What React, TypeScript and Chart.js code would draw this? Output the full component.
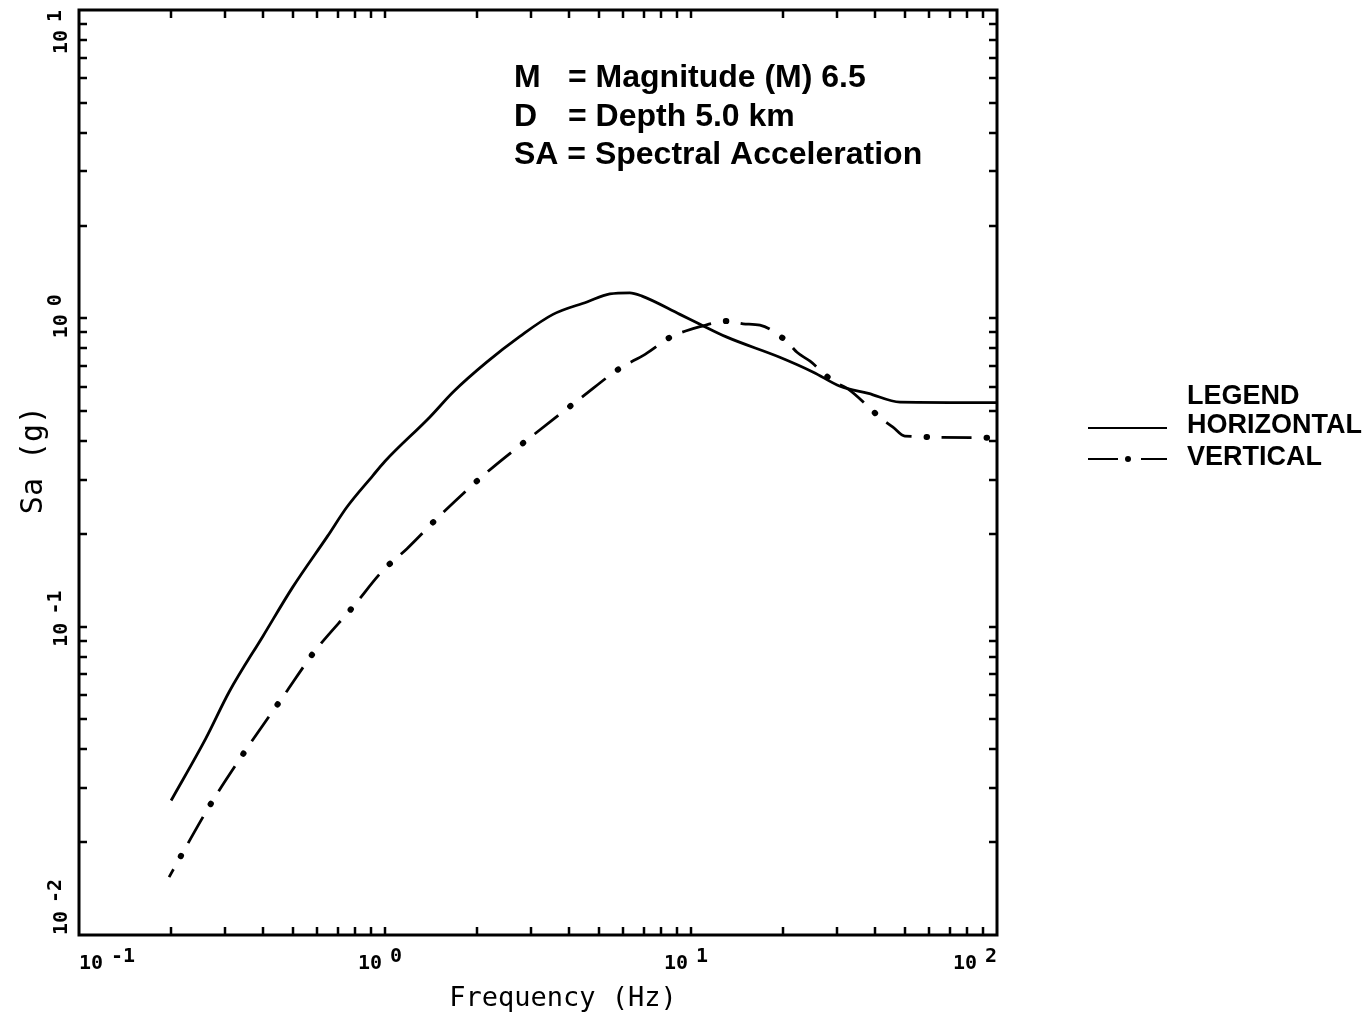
import React, { useEffect, useRef } from 'react';
import { Chart, registerables } from 'chart.js';

Chart.register(...registerables);

// Horizontal spectrum (Hz, g)
const freqH = [0.2, 0.26, 0.31, 0.4, 0.5, 0.65, 0.75, 0.91, 1.0, 1.4, 1.67, 2.15, 2.76, 3.54, 4.57, 5.43, 6.31, 6.92, 9.2, 10.7, 13.1, 19.5, 25.1, 30.7, 38.0, 48.2, 100];
const saH = [0.0273, 0.0435, 0.0616, 0.0935, 0.1346, 0.197, 0.244, 0.308, 0.344, 0.478, 0.577, 0.721, 0.874, 1.03, 1.13, 1.2, 1.21, 1.18, 1.03, 0.957, 0.869, 0.748, 0.669, 0.602, 0.571, 0.535, 0.533];

// Vertical spectrum (Hz, g)
const freqV = [0.197, 0.215, 0.27, 0.346, 0.479, 0.582, 0.792, 0.984, 1.18, 1.51, 2.14, 3.05, 4.4, 5.86, 7.08, 8.67, 9.55, 10.7, 13.2, 14.8, 16.8, 20.6, 22.2, 24.5, 29.1, 32.4, 42.1, 45.7, 50, 100];
const saV = [0.0154, 0.018, 0.0267, 0.039, 0.062, 0.0819, 0.117, 0.152, 0.179, 0.229, 0.315, 0.418, 0.555, 0.689, 0.764, 0.875, 0.908, 0.94, 0.98, 0.96, 0.95, 0.84, 0.776, 0.726, 0.625, 0.593, 0.471, 0.444, 0.415, 0.41];

// Axes
const xDecades = [0.1, 1, 10, 100];
const xExponents = ['-1', '0', '1', '2'];
const yDecades = [0.01, 0.1, 1, 10];
const yExponents = ['-2', '-1', '0', '1'];
const minorMultipliers = [2, 3, 4, 5, 6, 7, 8, 9];
const xTitle = 'Frequency (Hz)';
const yTitle = 'Sa (g)';

// Annotation and legend text
const noteKeys = ['M', 'D', 'SA = Spectral Acceleration'];
const noteValues = ['= Magnitude (M) 6.5', '= Depth 5.0 km', ''];
const legendTitle = 'LEGEND';
const seriesNames = ['HORIZONTAL', 'VERTICAL'];

const MONO = "'DejaVu Sans Mono', monospace";
const SANS = "'Liberation Sans', Arial, sans-serif";

const decorPlugin = {
  id: 'decor',
  afterDraw(chart: any) {
    const ctx: CanvasRenderingContext2D = chart.ctx;
    const a = chart.chartArea;
    const xs = chart.scales.x;
    const ys = chart.scales.y;
    ctx.save();
    ctx.strokeStyle = '#000';
    ctx.fillStyle = '#000';

    // frame
    ctx.lineWidth = 3;
    ctx.strokeRect(a.left, a.top, a.right - a.left, a.bottom - a.top);

    // ticks
    ctx.lineWidth = 2.5;
    const tl = 8;
    const xTickVals: number[] = [];
    xDecades.forEach((d) => {
      xTickVals.push(d);
      minorMultipliers.forEach((m) => { if (d * m < xDecades[xDecades.length - 1]) xTickVals.push(d * m); });
    });
    xTickVals.forEach((v) => {
      const px = Math.round(xs.getPixelForValue(v));
      if (px <= a.left + 2 || px >= a.right - 2) return;
      ctx.beginPath();
      ctx.moveTo(px, a.bottom); ctx.lineTo(px, a.bottom - tl);
      ctx.moveTo(px, a.top); ctx.lineTo(px, a.top + tl);
      ctx.stroke();
    });
    const yTickVals: number[] = [];
    yDecades.forEach((d) => {
      yTickVals.push(d);
      minorMultipliers.forEach((m) => { if (d * m < yDecades[yDecades.length - 1]) yTickVals.push(d * m); });
    });
    yTickVals.forEach((v) => {
      const py = Math.round(ys.getPixelForValue(v));
      if (py <= a.top + 2 || py >= a.bottom - 2) return;
      ctx.beginPath();
      ctx.moveTo(a.left, py); ctx.lineTo(a.left + tl, py);
      ctx.moveTo(a.right, py); ctx.lineTo(a.right - tl, py);
      ctx.stroke();
    });

    // x tick labels
    ctx.font = `bold 20px ${MONO}`;
    ctx.textBaseline = 'alphabetic';
    ctx.textAlign = 'left';
    xDecades.forEach((d, i) => {
      const px = xs.getPixelForValue(d);
      const w10 = ctx.measureText('10').width;
      const we = ctx.measureText(xExponents[i]).width;
      const gap = 8;
      const total = w10 + gap + we;
      let start = px - w10 - 3;
      start = Math.max(a.left, Math.min(a.right - total, start));
      ctx.fillText('10', start, 969);
      ctx.fillText(xExponents[i], start + w10 + gap, 962);
    });

    // y tick labels (rotated)
    yDecades.forEach((d, i) => {
      const py = ys.getPixelForValue(d);
      const w10 = ctx.measureText('10').width;
      const we = ctx.measureText(yExponents[i]).width;
      const gap = 8;
      const total = w10 + gap + we;
      let start = py + 20;
      start = Math.min(a.bottom, Math.max(a.top + total, start));
      ctx.save();
      ctx.translate(67, start);
      ctx.rotate(-Math.PI / 2);
      ctx.fillText('10', 0, 0);
      ctx.fillText(yExponents[i], w10 + gap, -6);
      ctx.restore();
    });

    // axis titles
    ctx.font = `27px ${MONO}`;
    ctx.textAlign = 'center';
    ctx.fillText(xTitle, (a.left + a.right) / 2 + 25, 1006);
    ctx.save();
    ctx.translate(42, 460);
    ctx.rotate(-Math.PI / 2);
    ctx.font = `30px ${MONO}`;
    ctx.fillText(yTitle, 0, 0);
    ctx.restore();

    // annotations
    ctx.font = `bold 32px ${SANS}`;
    ctx.textAlign = 'left';
    ctx.textBaseline = 'middle';
    const noteY = [78, 117, 155];
    noteKeys.forEach((k, i) => {
      ctx.fillText(k, 514, noteY[i]);
      if (noteValues[i]) ctx.fillText(noteValues[i], 568, noteY[i]);
    });

    // legend
    ctx.font = `bold 27px ${SANS}`;
    ctx.fillText(legendTitle, 1187, 397);
    ctx.fillText(seriesNames[0], 1187, 426);
    ctx.fillText(seriesNames[1], 1187, 458);
    ctx.lineWidth = 2;
    ctx.beginPath();
    ctx.moveTo(1088, 428); ctx.lineTo(1167, 428);
    ctx.moveTo(1088, 459); ctx.lineTo(1118, 459);
    ctx.moveTo(1141, 459); ctx.lineTo(1167, 459);
    ctx.stroke();
    ctx.beginPath();
    ctx.arc(1128, 459, 3, 0, Math.PI * 2);
    ctx.fill();

    ctx.restore();
  },
};

export default function App() {
  const ref = useRef<HTMLCanvasElement | null>(null);
  useEffect(() => {
    if (!ref.current) return;
    const hPts = freqH.map((x, i) => ({ x, y: saH[i] }));
    const vPts = freqV.map((x, i) => ({ x, y: saV[i] }));
    const chart = new Chart(ref.current, {
      type: 'line',
      data: {
        datasets: [
          {
            label: seriesNames[0],
            data: hPts,
            borderColor: '#000',
            borderWidth: 2.8,
            pointRadius: 0,
            cubicInterpolationMode: 'monotone',
          },
          {
            label: seriesNames[1],
            data: vPts,
            borderColor: '#000',
            borderWidth: 2.8,
            borderDash: [30, 30],
            borderDashOffset: 21,
            pointRadius: 0,
            cubicInterpolationMode: 'monotone',
          },
          {
            label: seriesNames[1] + ' dots',
            data: vPts,
            borderColor: '#000',
            borderWidth: 6,
            borderDash: [0.5, 59.5],
            borderDashOffset: 36,
            borderCapStyle: 'round',
            pointRadius: 0,
            cubicInterpolationMode: 'monotone',
          },
        ],
      },
      options: {
        animation: false,
        responsive: false,
        events: [],
        layout: { padding: { left: 79, top: 10, right: 372, bottom: 84 } },
        scales: {
          x: { type: 'logarithmic', min: 0.1, max: 100, display: false },
          y: { type: 'logarithmic', min: 0.01, max: 10, display: false },
        },
        plugins: { legend: { display: false }, tooltip: { enabled: false } },
      },
      plugins: [decorPlugin],
    } as any);
    return () => chart.destroy();
  }, []);
  return (
    <div style={{ position: 'absolute', left: 0, top: 0, width: 1369, height: 1019, background: '#fff' }}>
      <canvas ref={ref} width={1369} height={1019} style={{ display: 'block' }} />
    </div>
  );
}
